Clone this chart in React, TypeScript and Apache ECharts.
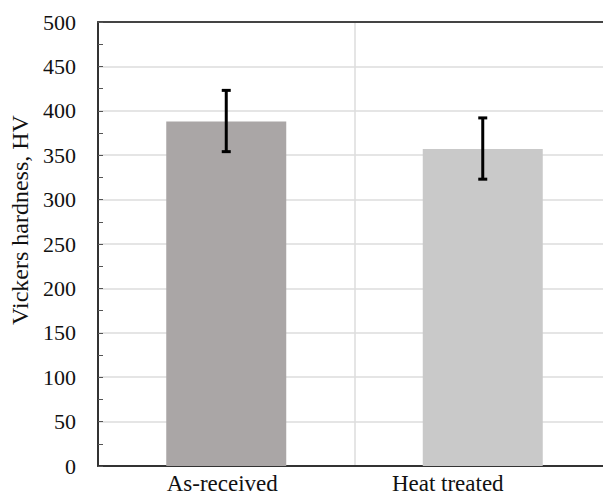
import React, { useEffect, useRef } from "react";
import * as echarts from "echarts";

const categories = ["As-received", "Heat treated"];
const hardness = [388, 357];
const errLow = [354, 323];
const errHigh = [423, 392];
const barColors = ["#aaa6a6", "#c9c9c9"];
const yTicks = { min: 0, max: 500, interval: 50 };

const FONT = "Liberation Serif, DejaVu Serif, serif";

export default function App() {
  const ref = useRef<HTMLDivElement>(null);
  useEffect(() => {
    if (!ref.current) return;
    const chart = echarts.init(ref.current, null, { renderer: "svg" });
    chart.setOption({
      animation: false,
      backgroundColor: "#ffffff",
      textStyle: { fontFamily: FONT },
      grid: { left: 95, top: 22, bottom: 34, right: -10, containLabel: false },
      xAxis: [
        {
          type: "category",
          data: categories,
          boundaryGap: true,
          axisLine: { show: true, lineStyle: { color: "#333333", width: 2 } },
          axisTick: { show: false },
          splitLine: { show: true, lineStyle: { color: "#dcdcdc", width: 1.5 } },
          axisLabel: {
            color: "#111111",
            fontFamily: FONT,
            fontSize: 23,
            margin: 6,
            formatter: (v: string, i: number) => (i === 1 ? "{s|" + v + "}" : "{n|" + v + "}"),
            rich: {
              n: { fontFamily: FONT, fontSize: 23, color: "#111111", padding: [0, 8, 0, 0] },
              s: { fontFamily: FONT, fontSize: 23, color: "#111111", padding: [0, 70, 0, 0] },
            },
          },
        },
        {
          type: "category",
          data: categories,
          position: "top",
          boundaryGap: false,
          axisLine: { show: true, lineStyle: { color: "#444444", width: 2 } },
          axisTick: { show: false },
          axisLabel: { show: false },
          splitLine: { show: true, lineStyle: { color: "#f1f1f1", width: 1.5 } },
        },
      ],
      yAxis: {
        type: "value",
        min: yTicks.min,
        max: yTicks.max,
        interval: yTicks.interval,
        name: "Vickers hardness, HV",
        nameLocation: "middle",
        nameGap: 66,
        nameTextStyle: { fontFamily: FONT, fontSize: 24, color: "#111111", padding: [0, 0, 0, 48] },
        axisLine: { show: true, lineStyle: { color: "#333333", width: 2 } },
        axisTick: { show: true, inside: true, length: 5, lineStyle: { color: "#555555" } },
        minorTick: { show: true, splitNumber: 2, length: 5, lineStyle: { color: "#555555" } },
        splitLine: { show: true, lineStyle: { color: "#dcdcdc", width: 1.5 } },
        axisLabel: { color: "#111111", fontFamily: FONT, fontSize: 22, margin: 22 },
      },
      series: [
        {
          type: "bar",
          barWidth: 120,
          data: hardness.map((v, i) => ({ value: v, itemStyle: { color: barColors[i] } })),
          z: 2,
        },
        {
          type: "custom",
          z: 5,
          data: categories.map((_, i) => [i, errLow[i], errHigh[i]]),
          renderItem: (params: any, api: any) => {
            const x = api.value(0);
            const lo = api.coord([x, api.value(1)]);
            const hi = api.coord([x, api.value(2)]);
            const cap = 4.5;
            const style = { stroke: "#000000", lineWidth: 3 };
            return {
              type: "group",
              children: [
                { type: "line", shape: { x1: lo[0], y1: lo[1], x2: hi[0], y2: hi[1] }, style },
                { type: "line", shape: { x1: hi[0] - cap, y1: hi[1], x2: hi[0] + cap, y2: hi[1] }, style },
                { type: "line", shape: { x1: lo[0] - cap, y1: lo[1], x2: lo[0] + cap, y2: lo[1] }, style },
              ],
            };
          },
        },
      ],
    });
    return () => chart.dispose();
  }, []);
  return <div ref={ref} style={{ width: 611, height: 500, margin: -8 }} />;
}
